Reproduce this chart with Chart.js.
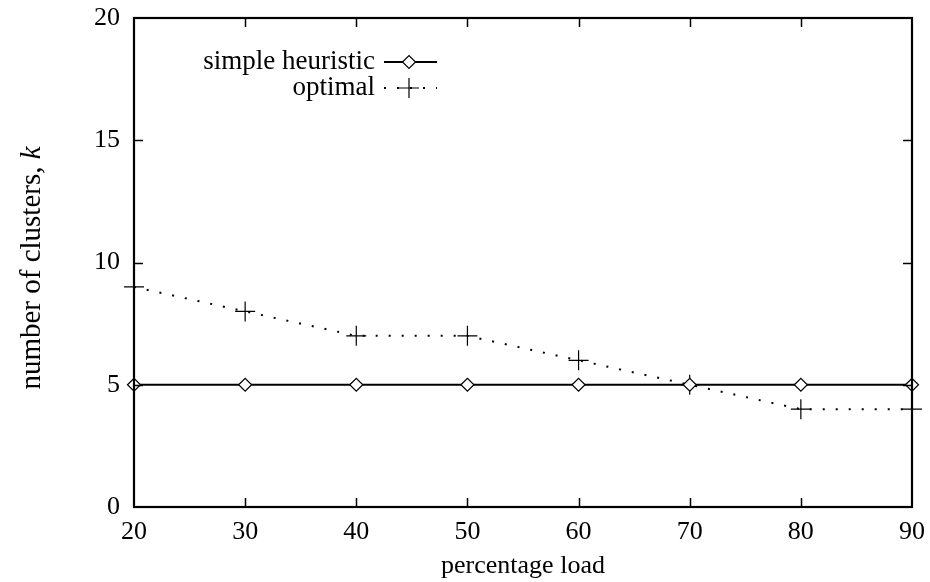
<!DOCTYPE html>
<html>
<head>
<meta charset="utf-8">
<script src="https://cdn.jsdelivr.net/npm/chart.js@4.4.1/dist/chart.umd.min.js"></script>
<style>
  html, body { margin: 0; padding: 0; background: #fff; }
  #wrap { width: 930px; height: 582px; }
</style>
</head>
<body>
<div id="wrap"><canvas id="loadChart" width="930" height="582"></canvas></div>
<script>
// data
var loads = [20, 30, 40, 50, 60, 70, 80, 90];
var heuristicK = [5, 5, 5, 5, 5, 5, 5, 5];
var optimalK = [9, 8, 7, 7, 6, 5, 4, 4];
var yTicks = [0, 5, 10, 15, 20];
var seriesNames = ['simple heuristic', 'optimal'];

var serif = "'Liberation Serif', 'DejaVu Serif', serif";
var fs = 26;

function pairs(xs, ys) {
  return xs.map(function (x, i) { return { x: x, y: ys[i] }; });
}

// box round the plot with little ticks pointing inwards (gnuplot style)
var framePlugin = {
  id: 'frame',
  afterDatasetsDraw: function (chart) {
    var c = chart.ctx, a = chart.chartArea;
    var xs = chart.scales.x, ys = chart.scales.y;
    var t = 9;
    c.save();
    c.strokeStyle = '#000';
    c.lineWidth = 1.5;
    loads.forEach(function (v) {
      if (v === loads[0] || v === loads[loads.length - 1]) return;
      var px = Math.round(xs.getPixelForValue(v)) + 0.5;
      c.beginPath();
      c.moveTo(px, a.bottom); c.lineTo(px, a.bottom - t);
      c.moveTo(px, a.top); c.lineTo(px, a.top + t);
      c.stroke();
    });
    yTicks.forEach(function (v) {
      if (v === yTicks[0] || v === yTicks[yTicks.length - 1]) return;
      var py = Math.round(ys.getPixelForValue(v)) + 0.5;
      c.beginPath();
      c.moveTo(a.left, py); c.lineTo(a.left + t, py);
      c.moveTo(a.right, py); c.lineTo(a.right - t, py);
      c.stroke();
    });
    c.lineWidth = 2.2;
    c.strokeRect(a.left, a.top, a.right - a.left, a.bottom - a.top);
    c.restore();
  }
};

// y title drawn by hand so the k can be italic
var yTitlePlugin = {
  id: 'ytitle',
  afterDraw: function (chart) {
    var c = chart.ctx;
    var main = 'number of clusters, ', k = 'k';
    var size = 29;
    c.save();
    c.fillStyle = '#000';
    c.translate(32, 268);
    c.rotate(-Math.PI / 2);
    c.textBaseline = 'middle';
    c.font = size + 'px ' + serif;
    var w1 = c.measureText(main).width;
    c.font = 'italic ' + size + 'px ' + serif;
    var w2 = c.measureText(k).width;
    var x = -(w1 + w2) / 2;
    c.font = size + 'px ' + serif;
    c.textAlign = 'left';
    c.fillText(main, x, 0);
    c.font = 'italic ' + size + 'px ' + serif;
    c.fillText(k, x + w1, 0);
    c.restore();
  }
};

// legend: text right aligned, line sample to the right of it
var keyPlugin = {
  id: 'key',
  afterDraw: function (chart) {
    var c = chart.ctx;
    var textRight = 375, x0 = 384, x1 = 437, y0 = 62, dy = 26;
    c.save();
    c.font = '27px ' + serif;
    c.textAlign = 'right';
    c.textBaseline = 'middle';
    chart.data.datasets.forEach(function (ds, i) {
      var y = y0 + i * dy;
      c.fillStyle = '#000';
      c.fillText(ds.label, textRight, y);
      c.strokeStyle = ds.borderColor;
      c.lineWidth = ds.borderWidth;
      c.setLineDash(ds.borderDash || []);
      c.beginPath();
      c.moveTo(x0, y); c.lineTo(x1, y);
      c.stroke();
      c.setLineDash([]);
      c.fillStyle = '#fff';
      c.lineWidth = ds.pointBorderWidth;
      Chart.helpers.drawPoint(c, {
        pointStyle: ds.pointStyle,
        radius: ds.pointRadius,
        borderWidth: ds.pointBorderWidth
      }, 409, y);
    });
    c.restore();
  }
};

Chart.defaults.font.family = serif;
Chart.defaults.color = '#000';

new Chart(document.getElementById('loadChart').getContext('2d'), {
  type: 'line',
  data: {
    datasets: [
      {
        label: seriesNames[0],
        data: pairs(loads, heuristicK),
        borderColor: '#000',
        borderWidth: 2,
        backgroundColor: '#fff',
        pointStyle: 'rectRot',
        pointRadius: 6.5,
        pointBorderWidth: 1.2,
        pointBackgroundColor: '#fff',
        pointBorderColor: '#000',
        tension: 0
      },
      {
        label: seriesNames[1],
        data: pairs(loads, optimalK),
        borderColor: '#000',
        borderWidth: 2,
        borderDash: [2, 11],
        pointStyle: 'cross',
        pointRadius: 10,
        pointBorderWidth: 1.2,
        pointBorderColor: '#000',
        tension: 0
      }
    ]
  },
  plugins: [framePlugin, keyPlugin, yTitlePlugin],
  options: {
    responsive: false,
    animation: false,
    clip: false,
    layout: { padding: { top: 18, right: 18, bottom: 0, left: 0 } },
    plugins: {
      legend: { display: false },
      tooltip: { enabled: false }
    },
    scales: {
      x: {
        type: 'linear',
        min: 20,
        max: 90,
        afterBuildTicks: function (s) { s.ticks = loads.map(function (v) { return { value: v }; }); },
        grid: { display: false, drawTicks: false },
        border: { display: false },
        ticks: { font: { size: fs }, padding: 10, maxRotation: 0 },
        title: { display: true, text: 'percentage load', font: { size: fs }, padding: { top: 0, bottom: 0 } },
        afterFit: function (s) { s.height = 75; s.paddingLeft = 0; s.paddingRight = 0; }
      },
      y: {
        min: 0,
        max: 20,
        afterBuildTicks: function (s) { s.ticks = yTicks.map(function (v) { return { value: v }; }); },
        grid: { display: false, drawTicks: false },
        border: { display: false },
        ticks: { font: { size: fs }, padding: 14 },
        afterFit: function (s) { s.width = 134; s.paddingTop = 0; s.paddingBottom = 0; }
      }
    }
  }
});
</script>
</body>
</html>
